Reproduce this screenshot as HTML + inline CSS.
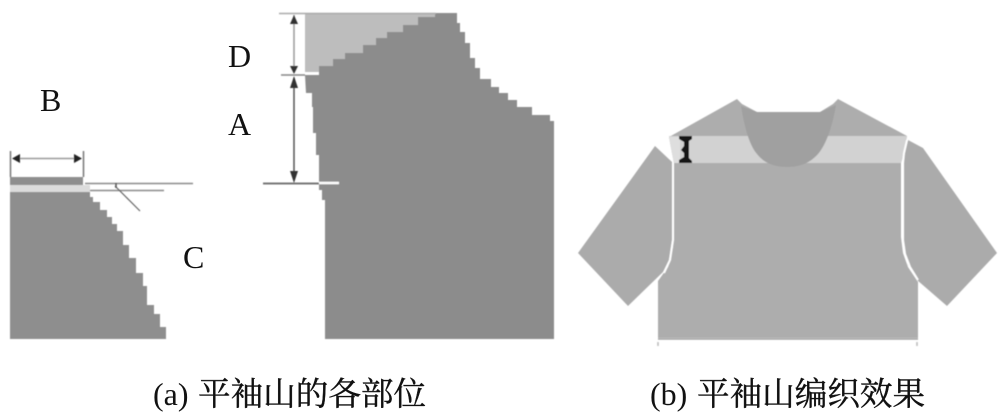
<!DOCTYPE html>
<html><head><meta charset="utf-8"><style>
html,body{margin:0;padding:0;background:#fff}
svg{display:block}
text{font-family:"Liberation Serif","Noto Serif CJK SC",serif;fill:#111}
.c{stroke:#111;stroke-width:.4}
</style></head><body>
<svg width="1000" height="416" viewBox="0 0 1000 416" xmlns="http://www.w3.org/2000/svg">
<defs><filter id="s" x="-2%" y="-2%" width="104%" height="104%"><feGaussianBlur stdDeviation="0.5"/></filter></defs>
<g filter="url(#s)">
<!-- left piece -->
<rect x="10" y="177" width="73" height="9" fill="#8e8e8e"/>
<rect x="10" y="185" width="80" height="7" fill="#dcdcdc"/>
<path fill="#8e8e8e" d="M10,192H90V197H93V202H100V210H107V217H112V224H117V231H123V245H129V258H136V273H143V286H147V305H154V314H160V327H166V339H10Z"/>
<g stroke="#777" fill="none">
<path d="M10.5,151V177M83.5,151V177" stroke-width="1.5"/>
<path d="M14,158.5H80" stroke="#999" stroke-width="1.5"/>
<path d="M85,183.5H193" stroke="#8a8a8a" stroke-width="1.5"/>
<path d="M90,190.5H164" stroke="#8a8a8a" stroke-width="1.5"/>
<path d="M115,186L140,211" stroke="#666" stroke-width="1.2"/>
<path d="M116,183V188" stroke="#555" stroke-width="1.5"/>
</g>
<path fill="#222" d="M12,158.5L20,154V163ZM82,158.5L74,154V163Z"/>
<!-- middle piece -->
<path fill="#bdbdbd" d="M305,13H436V30L340,72H305Z"/>
<path fill="#8c8c8c" d="M305,75H319V66H333V59H345V53H363V45H376V38H387V32H403V25H418V17H435V13H457V23H460V32H465V43H470V58H475V68H480V79H484H491V87H499V93H508V100H517V107H532V115H550V121H554V339H325V200H322V190H319V155H316V133H313V107H312V93H306Z"/>
<path d="M279,13.5H436" stroke="#aaa" stroke-width="1.5" fill="none"/>
<path d="M281,75H305" stroke="#888" stroke-width="1.5" fill="none"/>
<path d="M263,183.5H319" stroke="#777" stroke-width="2" fill="none"/>
<path d="M319,183H339" stroke="#fff" stroke-width="2.5" fill="none"/>
<path d="M294,15V72" stroke="#999" stroke-width="1.5" fill="none"/>
<path d="M294,78V180" stroke="#555" stroke-width="1.5" fill="none"/>
<path fill="#333" d="M294,15L290,24H298ZM294,74L290,66H298ZM294,76L290,88H298ZM294,183L290,171H298Z"/>
<!-- shirt -->
<path fill="#ababab" d="M655,146L672,162V240L669,260L663,272L628,306L578,253Z"/>
<path fill="#ababab" d="M908,140L923,148L997,253L947,306L917,280L908,265L904,247V157Z"/>
<path fill="#adadad" d="M669,137L737,99L742,104L757,112H820L833,104L838,99L907,136L904,153L901,163V237L903,253L908,267L918,282V338H658V281L668,267L673,247L674,163L672,153Z"/>
<path fill="#d2d2d2" d="M669,136H907L904,153L901,163H674L672,153Z"/>
<path fill="#dedede" d="M669,137H680V163H674L672,153Z"/>
<path fill="#a0a0a0" d="M741,106L757,112H820L836,105C833,125 826,145 818,154C810,163 800,167 787,167C774,167 764,163 757,154C749,145 744,125 741,106Z"/>
<path d="M658,339H918" stroke="#a0a0a0" stroke-width="1.5" fill="none"/>
<path d="M658,342V346M917,342V346" stroke="#bbb" stroke-width="1.5" fill="none"/>
<path fill="#161616" d="M679,136H692V139L689,141V158L692,161V163H679V160L684,157V153L681,150L684,146V142L679,139Z"/>
<path d="M673,163V240L670,260L664,273M907,140L904,153L903,163V240L905,254L910,267L918,280" stroke="#fff" stroke-width="2" fill="none"/>
</g>
<!-- labels -->
<text x="40" y="111" font-size="32">B</text>
<text x="228" y="67" font-size="32">D</text>
<text x="228" y="135" font-size="32">A</text>
<text x="183" y="268" font-size="32">C</text>
<text x="153" y="405" font-size="32">(a)</text>
<text class="c" x="198" y="405" font-size="32.6">平袖山的各部位</text>
<text x="650" y="405" font-size="32">(b)</text>
<text class="c" x="697" y="405" font-size="32.6">平袖山编织效果</text>
</svg>
</body></html>
